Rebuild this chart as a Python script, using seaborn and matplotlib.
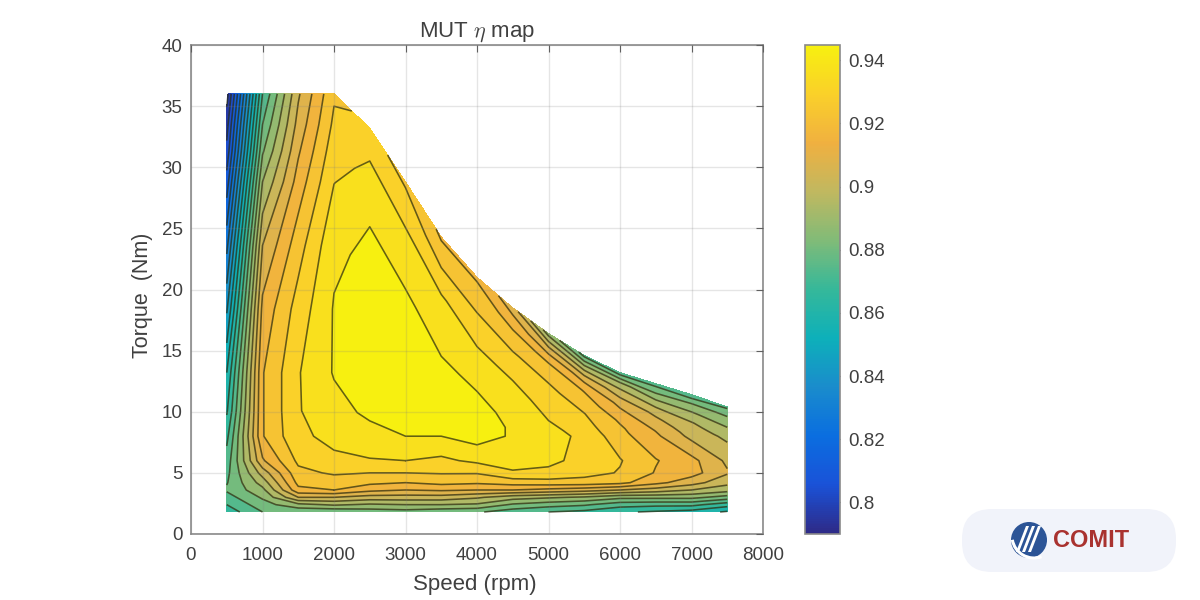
import numpy as np
import matplotlib
matplotlib.use("Agg")
import matplotlib.pyplot as plt
from matplotlib.cm import ScalarMappable
from matplotlib.colors import Normalize
from matplotlib.patches import FancyBboxPatch, Circle, Polygon, Arc
import seaborn as sns

# ---- data ----
speeds = [500, 1000, 1500, 2000, 2500, 3000, 3500, 4000, 4500, 5000, 5500, 6000, 6500, 7000, 7500]
max_torque = [36, 36, 36, 36, 33.2, 28.8, 24.3, 21.0, 18.5, 16.4, 14.6, 13.2, 12.3, 11.4, 10.4]
low_torque_rows = [1.8, 2.4, 3.0, 3.6, 4.2, 5, 6, 8]
# rows between the 8 Nm row and 80 % of the torque limit, then rows up to the limit
mid_fractions = [0.10, 0.25, 0.50, 0.75]
limit_fractions = [0.80, 0.87, 0.93, 1.00]

eff_t018 = [.866, .877, .878, .878, .880, .881, .879, .878, .873, .870, .868, .864, .862, .860, .855]
eff_t024 = [.870, .881, .889, .892, .890, .891, .891, .890, .883, .880, .878, .873, .872, .872, .866]
eff_t030 = [.874, .885, .905, .905, .902, .902, .902, .899, .894, .892, .890, .886, .886, .886, .881]
eff_t036 = [.878, .889, .917, .919, .914, .912, .913, .912, .912, .910, .908, .905, .902, .898, .894]
eff_t042 = [.8765, .894, .921, .922, .9205, .919, .921, .920, .922, .923, .923, .921, .914, .908, .900]
eff_t050 = [.875, .901, .924, .927, .926, .926, .9265, .9265, .932, .9315, .9285, .9255, .9185, .9148, .9058]
eff_t060 = [.873, .911, .9275, .9315, .9325, .933, .9315, .9345, .9365, .9345, .931, .9265, .9195, .9142, .9035]
eff_t080 = [.868, .9185, .9315, .935, .9375, .940, .940, .943, .9392, .9355, .9315, .9217, .9135, .903, .8962]
eff_m10 = [.862, .9185, .9325, .9378, .9412, .9412, .941, .943, .9392, .935, .9302, .9210, .9128, .9025, .8960]
eff_m25 = [.856, .9185, .9325, .9405, .9425, .9422, .9418, .942, .9382, .933, .9285, .9202, .9117, .9018, .8957]
eff_m50 = [.841, .914, .929, .9405, .943, .9428, .941, .939, .9355, .9305, .9262, .918, .909, .9007, .8952]
eff_m75 = [.826, .905, .923, .9385, .9418, .941, .9375, .9345, .9318, .9276, .9225, .9142, .9063, .8995, .8947]
eff_f80 = [.810, .891, .915, .9328, .9392, .936, .9335, .930, .9265, .9235, .9187, .9105, .9035, .8983, .8942]
eff_f87 = [.802, .883, .911, .930, .9352, .933, .928, .9255, .9215, .9175, .9092, .902, .8945, .8917, .8885]
eff_f93 = [.797, .877, .9075, .9275, .9325, .9292, .9235, .922, .917, .9057, .895, .8935, .885, .885, .8835]
eff_f100 = [.790, .870, .904, .925, .927, .925, .918, .918, .908, .888, .875, .873, .874, .872, .8755]
eff_rows = [eff_t018, eff_t024, eff_t030, eff_t036, eff_t042, eff_t050, eff_t060, eff_t080,
            eff_m10, eff_m25, eff_m50, eff_m75, eff_f80, eff_f87, eff_f93, eff_f100]

x_ticks = [0, 1000, 2000, 3000, 4000, 5000, 6000, 7000, 8000]
y_ticks = [0, 5, 10, 15, 20, 25, 30, 35, 40]
cbar_ticks = [0.8, 0.82, 0.84, 0.86, 0.88, 0.9, 0.92, 0.94]
cbar_labels = ["0.8", "0.82", "0.84", "0.86", "0.88", "0.9", "0.92", "0.94"]
top_contour, contour_step = 0.94, 0.007
eff_min, eff_max = 0.79, 0.9448
parula_like = ["#2e2a87", "#1a52d8", "#0a6ee0", "#1a8ccc", "#0db0ba", "#35b89a",
               "#80bb78", "#c0b860", "#f0b040", "#fad02a", "#f7f010"]

# ---- style ----
sns.set_theme(style="whitegrid")
plt.rcParams["font.family"] = ["Liberation Sans", "DejaVu Sans"]
plt.rcParams["mathtext.fontset"] = "cm"
TXT = "#404040"
W, H = 1200, 600
fig = plt.figure(figsize=(12, 6), dpi=100, facecolor="white")
ax = fig.add_axes([191 / W, 1 - 534 / H, (763 - 191) / W, (534 - 45) / H])
cmap = sns.blend_palette(parula_like, as_cmap=True)
norm = Normalize(eff_min, eff_max)

# ---- curvilinear mesh: every row follows the torque limit ----
limit = np.array(max_torque, dtype=float)
S = np.array(speeds, dtype=float)
y_rows = [np.full_like(limit, t) for t in low_torque_rows]
y_rows += [8 + g * (0.8 * limit - 8) for g in mid_fractions]
y_rows += [f * limit for f in limit_fractions]
Y = np.array(y_rows)
X = np.tile(S, (Y.shape[0], 1))
Z = np.array(eff_rows)

lower = np.arange(top_contour, eff_min - contour_step, -contour_step)[::-1]
levels = np.append(lower, 0.955)
ax.contourf(X, Y, Z, levels=levels, cmap=cmap, norm=norm, zorder=1)
ax.contour(X, Y, Z, levels=lower, colors="#2a2a10", linewidths=1.15, alpha=0.72, zorder=2)

# ---- axes ----
ax.set_xlim(0, 8000)
ax.set_ylim(0, 40)
ax.set_xticks(x_ticks)
ax.set_yticks(y_ticks)
ax.grid(True, color="#808080", alpha=0.2, lw=1.0, zorder=3)
ax.set_axisbelow(False)
ax.tick_params(axis="both", direction="in", length=5, width=0.8, color="#606060", labelcolor=TXT,
               labelsize=13.5, top=True, right=True)
ax.tick_params(axis="x", pad=9)
ax.tick_params(axis="y", pad=6)
for sp in ax.spines.values():
    sp.set_color("#8a8a8a")
    sp.set_linewidth(1.2)
ax.set_xlabel("Speed (rpm)", fontsize=16, color=TXT, va="center")
ax.xaxis.set_label_coords(0.497, -0.104)
ax.set_ylabel("Torque  (Nm)", fontsize=15.5, color=TXT, va="center")
ax.yaxis.set_label_coords(-0.084, (534 - 295) / 489)
ax.set_title(r"MUT $\eta$ map", fontsize=16, color=TXT, pad=6)

# ---- colourbar ----
cax = fig.add_axes([805 / W, 1 - 534 / H, 35 / W, (534 - 45) / H])
cb = fig.colorbar(ScalarMappable(norm=norm, cmap=cmap), cax=cax)
cb.set_ticks(cbar_ticks)
cb.set_ticklabels(cbar_labels)
cb.ax.tick_params(direction="in", length=4, width=0.8, color="#505050", labelcolor=TXT,
                  labelsize=13.5, pad=6)
cb.ax.grid(False)
cb.outline.set_edgecolor("#8a8a8a")
cb.outline.set_linewidth(1.2)

# ---- logo badge ----
lg = fig.add_axes([0, 0, 1, 1], facecolor="none")
lg.set_xlim(0, W)
lg.set_ylim(H, 0)
lg.axis("off")
lg.add_patch(FancyBboxPatch((962, 509), 214, 63, boxstyle="round,pad=0,rounding_size=30",
                            fc="#f1f3fa", ec="none"))
lg.add_patch(Circle((1029, 540), 18, fc="#2c5496", ec="none"))
lg.add_patch(Arc((1034, 536), 44, 44, theta1=70, theta2=170, color="white", lw=2.2))
for dx in (-10, -4, 2):
    lg.add_patch(Polygon([[1029 + dx + 7, 526], [1029 + dx + 10, 526], [1029 + dx, 552], [1029 + dx - 3, 552]],
                         closed=True, fc="white", ec="none"))
lg.text(1091.5, 540.5, "COMIT", fontsize=17, fontweight="bold", color="#a9322f",
        ha="center", va="center", family=["Liberation Sans"])

fig.savefig("out.png", dpi=100)
